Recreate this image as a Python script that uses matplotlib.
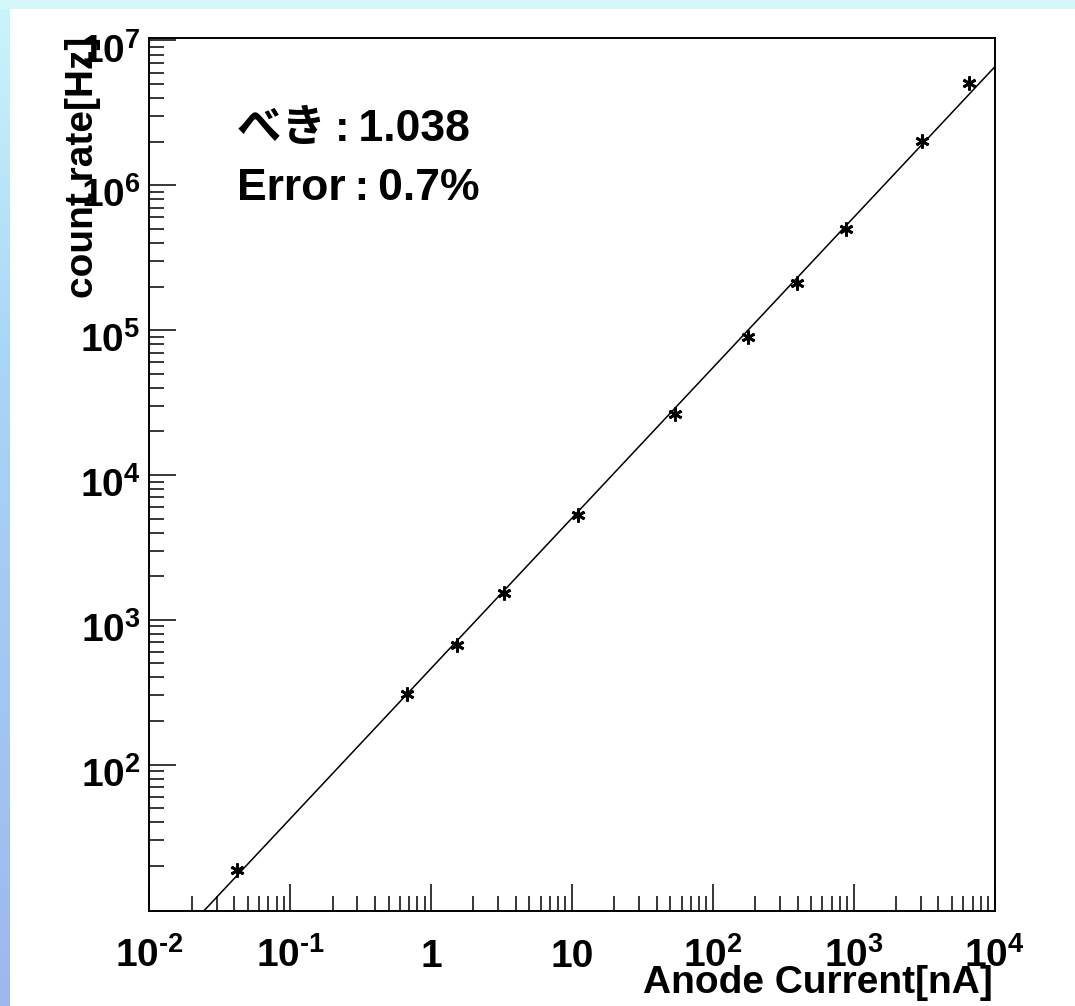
import matplotlib
matplotlib.use("Agg")
import matplotlib.pyplot as plt
import numpy as np
from matplotlib.patches import Rectangle
from matplotlib.ticker import FixedLocator, NullFormatter

plt.rcParams["font.family"] = ["Liberation Sans", "Noto Sans CJK JP", "DejaVu Sans"]
plt.rcParams["font.weight"] = "bold"
plt.rcParams["mathtext.fontset"] = "custom"
plt.rcParams["mathtext.rm"] = "Liberation Sans:bold"
plt.rcParams["mathtext.bf"] = "Liberation Sans:bold"
plt.rcParams["mathtext.it"] = "Liberation Sans:bold"

# ── data ────────────────────────────────────────────────────────────────────
current_nA = [0.042, 0.67, 1.52, 3.28, 11.0, 53.7, 177, 394, 877, 3035, 6540]
rate_Hz    = [18.6, 309, 673, 1536, 5300, 26350, 89500, 211000, 497000, 2.01e6, 5.05e6]

FIT_SLOPE = 1.038
FIT_NORM  = 461.0     # rate at 1 nA

x_ticks  = [1e-2, 1e-1, 1, 10, 1e2, 1e3, 1e4]
x_labels = ["$10^{‐2}$", "$10^{‐1}$", "1", "10", "$10^{2}$", "$10^{3}$", "$10^{4}$"]
y_ticks  = [1e2, 1e3, 1e4, 1e5, 1e6, 1e7]
y_labels = ["$10^{2}$", "$10^{3}$", "$10^{4}$", "$10^{5}$", "$10^{6}$", "$10^{7}$"]

note_power = "べき\u2009:\u20091.038"
note_error = "Error\u2009:\u20090.7%"

W, H = 1075, 1006
fig = plt.figure(figsize=(W / 100, H / 100), dpi=100)

# ── slide-like background ───────────────────────────────────────────────────
bg = fig.add_axes([0, 0, 1, 1])
bg.set_axis_off()
grad = np.linspace(0, 1, 256)[:, None]
c_top = np.array([0.80, 0.96, 0.98])
c_mid = np.array([0.66, 0.84, 0.97])
c_bot = np.array([0.62, 0.72, 0.93])
cols = np.where(grad < 0.35,
                c_top + (c_mid - c_top) * (grad / 0.35),
                c_mid + (c_bot - c_mid) * ((grad - 0.35) / 0.65))
bg.imshow(cols[:, None, :].repeat(4, axis=1), aspect="auto",
          extent=[0, 1, 0, 1], origin="upper")
bg.add_patch(Rectangle((0, 1 - 9 / H), 1, 9 / H, color=(0.83, 0.97, 0.98), lw=0))
bg.add_patch(Rectangle((10 / W, 0), 1 - 10 / W, 1 - 9 / H, color="white", lw=0))
bg.set_xlim(0, 1)
bg.set_ylim(0, 1)

# ── main axes ───────────────────────────────────────────────────────────────
x0, x1 = 149.3, 994.5
y0, y1 = 38, 911
ax = fig.add_axes([x0 / W, 1 - y1 / H, (x1 - x0) / W, (y1 - y0) / H])
ax.set_xscale("log")
ax.set_yscale("log")
ax.set_xlim(1e-2, 1e4)
ax.set_ylim(9.75, 1.04e7)

xs = np.array([1e-2, 1e4])
ax.plot(xs, FIT_NORM * xs ** FIT_SLOPE, color="black", lw=1.1)
ax.plot(current_nA, rate_Hz, ls="none", marker=(6, 2, 0), ms=10, mew=2.0,
        color="black")

for sp in ax.spines.values():
    sp.set_linewidth(1.4)

ax.set_xticks(x_ticks)
ax.set_xticklabels(x_labels)
x_minor = [m * 10.0 ** e for e in range(-2, 4) for m in range(2, 10)]
ax.xaxis.set_minor_locator(FixedLocator(x_minor))
ax.xaxis.set_minor_formatter(NullFormatter())

ax.set_yticks(y_ticks)
ax.set_yticklabels([])
y_minor = [m * 10.0 ** e for e in range(1, 7) for m in range(2, 10)]
ax.yaxis.set_minor_locator(FixedLocator(y_minor))
ax.yaxis.set_minor_formatter(NullFormatter())

ax.tick_params(which="both", direction="in", top=False, right=False, width=1.1,
               color="black")
ax.tick_params(which="major", length=19.5)
ax.tick_params(which="minor", length=10.5)
ax.tick_params(axis="x", which="major", labelsize=28, pad=40)
for lab in ax.get_xticklabels():
    lab.set_va("baseline")

for v, s in zip(y_ticks, y_labels):
    ax.annotate(s, xy=(0, v), xycoords=("axes fraction", "data"),
                xytext=(-9, -22), textcoords="offset pixels",
                ha="right", va="baseline", fontsize=28, annotation_clip=False)

# ── axis titles ─────────────────────────────────────────────────────────────
fig.text(993 / W, 1 - 993 / H, "Anode Current[nA]", ha="right", va="baseline",
         fontsize=28, fontweight="bold")
fig.text(101 / W, 1 - 37 / H, "count rate[Hz]", rotation=90, ha="right",
         va="top", fontsize=28, fontweight="bold")

# ── fit result notes ────────────────────────────────────────────────────────
fig.text(237 / W, 1 - 130 / H, note_power, ha="left", va="center",
         fontsize=32, fontweight="bold")
fig.text(237 / W, 1 - 189 / H, note_error, ha="left", va="center",
         fontsize=32, fontweight="bold")

fig.savefig("out.png", dpi=100)
